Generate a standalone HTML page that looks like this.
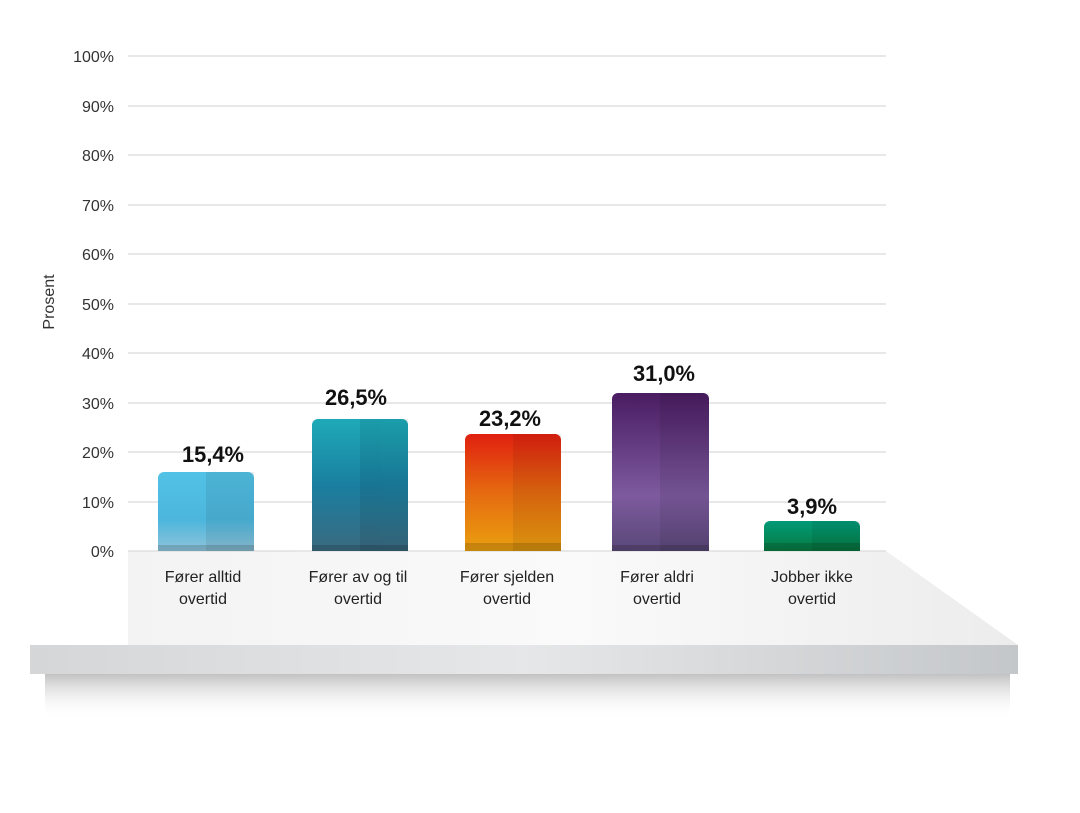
<!DOCTYPE html>
<html><head><meta charset="utf-8"><style>body{margin:0;background:#fff}svg{display:block}</style></head>
<body>
<svg width="1080" height="813" viewBox="0 0 1080 813" xmlns="http://www.w3.org/2000/svg" font-family="Liberation Sans, sans-serif">
<defs>
<linearGradient id="plat" x1="0" y1="0" x2="1" y2="0"><stop offset="0" stop-color="#f3f3f3"/><stop offset="0.5" stop-color="#fafafa"/><stop offset="1" stop-color="#ececec"/></linearGradient>
<linearGradient id="slab" x1="0" y1="0" x2="1" y2="0"><stop offset="0" stop-color="#d4d6d8"/><stop offset="0.5" stop-color="#e6e7e8"/><stop offset="1" stop-color="#c4c7ca"/></linearGradient>
<linearGradient id="shad" x1="0" y1="0" x2="0" y2="1"><stop offset="0" stop-color="#999" stop-opacity="0.6"/><stop offset="1" stop-color="#fff" stop-opacity="0"/></linearGradient>
<linearGradient id="g1" x1="0" y1="0" x2="0" y2="1"><stop offset="0" stop-color="#52c2e6"/><stop offset="0.6" stop-color="#4cb6dc"/><stop offset="1" stop-color="#8ec3da"/></linearGradient>
<linearGradient id="g2" x1="0" y1="0" x2="0" y2="1"><stop offset="0" stop-color="#1eaab8"/><stop offset="0.5" stop-color="#1a7fa0"/><stop offset="1" stop-color="#3a6a80"/></linearGradient>
<linearGradient id="g3" x1="0" y1="0" x2="0" y2="1"><stop offset="0" stop-color="#e02010"/><stop offset="0.5" stop-color="#e66a10"/><stop offset="1" stop-color="#eaa010"/></linearGradient>
<linearGradient id="g4" x1="0" y1="0" x2="0" y2="1"><stop offset="0" stop-color="#4a1c62"/><stop offset="0.65" stop-color="#7d5a9e"/><stop offset="1" stop-color="#5a4878"/></linearGradient>
<linearGradient id="g5" x1="0" y1="0" x2="0" y2="1"><stop offset="0" stop-color="#009a78"/><stop offset="1" stop-color="#087a40"/></linearGradient>
</defs>
<rect x="45" y="674" width="965" height="45" fill="url(#shad)"/>
<polygon points="128,551 886,551 1018,645 128,645" fill="url(#plat)"/>
<rect x="30" y="645" width="988" height="29" fill="url(#slab)"/>
<g stroke="#e0e0e0" stroke-width="1.5">
<line x1="128" x2="886" y1="56" y2="56"/><line x1="128" x2="886" y1="106" y2="106"/><line x1="128" x2="886" y1="155" y2="155"/><line x1="128" x2="886" y1="205" y2="205"/><line x1="128" x2="886" y1="254" y2="254"/><line x1="128" x2="886" y1="304" y2="304"/><line x1="128" x2="886" y1="353" y2="353"/><line x1="128" x2="886" y1="403" y2="403"/><line x1="128" x2="886" y1="452" y2="452"/><line x1="128" x2="886" y1="502" y2="502"/><line x1="128" x2="886" y1="551" y2="551"/>
</g>
<g font-size="16" fill="#333" text-anchor="end">
<text x="114" y="62">100%</text><text x="114" y="112">90%</text><text x="114" y="161">80%</text><text x="114" y="211">70%</text><text x="114" y="260">60%</text><text x="114" y="310">50%</text><text x="114" y="359">40%</text><text x="114" y="409">30%</text><text x="114" y="458">20%</text><text x="114" y="508">10%</text><text x="114" y="557">0%</text>
</g>
<text transform="translate(54,302) rotate(-90)" font-size="16" fill="#333" text-anchor="middle">Prosent</text>
<g>
<path d="M158,551V478a6,6 0 0 1 6,-6h84a6,6 0 0 1 6,6V551Z" fill="url(#g1)"/>
<path d="M312,551V425a6,6 0 0 1 6,-6h84a6,6 0 0 1 6,6V551Z" fill="url(#g2)"/>
<path d="M465,551V440a6,6 0 0 1 6,-6h84a6,6 0 0 1 6,6V551Z" fill="url(#g3)"/>
<path d="M612,551V399a6,6 0 0 1 6,-6h85a6,6 0 0 1 6,6V551Z" fill="url(#g4)"/>
<path d="M764,551V527a6,6 0 0 1 6,-6h84a6,6 0 0 1 6,6V551Z" fill="url(#g5)"/>
<g fill="#000" opacity="0.07"><rect x="206" y="472" width="48" height="79"/><rect x="360" y="419" width="48" height="132"/><rect x="513" y="434" width="48" height="117"/><rect x="660" y="393" width="49" height="158"/><rect x="812" y="521" width="48" height="30"/></g>
<g fill="#000" opacity="0.15"><rect x="158" y="545" width="96" height="6"/><rect x="312" y="545" width="96" height="6"/><rect x="465" y="543" width="96" height="8"/><rect x="612" y="545" width="97" height="6"/><rect x="764" y="543" width="96" height="8"/></g>
</g>
<g font-size="22" font-weight="bold" fill="#111" text-anchor="middle">
<text x="213" y="462" textLength="62" lengthAdjust="spacingAndGlyphs">15,4%</text><text x="356" y="405" textLength="62" lengthAdjust="spacingAndGlyphs">26,5%</text><text x="510" y="426" textLength="62" lengthAdjust="spacingAndGlyphs">23,2%</text><text x="664" y="381" textLength="62" lengthAdjust="spacingAndGlyphs">31,0%</text><text x="812" y="514" textLength="50" lengthAdjust="spacingAndGlyphs">3,9%</text>
</g>
<g font-size="16" fill="#222" text-anchor="middle">
<text x="203" y="582">Fører alltid</text><text x="203" y="604">overtid</text>
<text x="358" y="582">Fører av og til</text><text x="358" y="604">overtid</text>
<text x="507" y="582">Fører sjelden</text><text x="507" y="604">overtid</text>
<text x="657" y="582">Fører aldri</text><text x="657" y="604">overtid</text>
<text x="812" y="582">Jobber ikke</text><text x="812" y="604">overtid</text>
</g>
</svg>
</body></html>
